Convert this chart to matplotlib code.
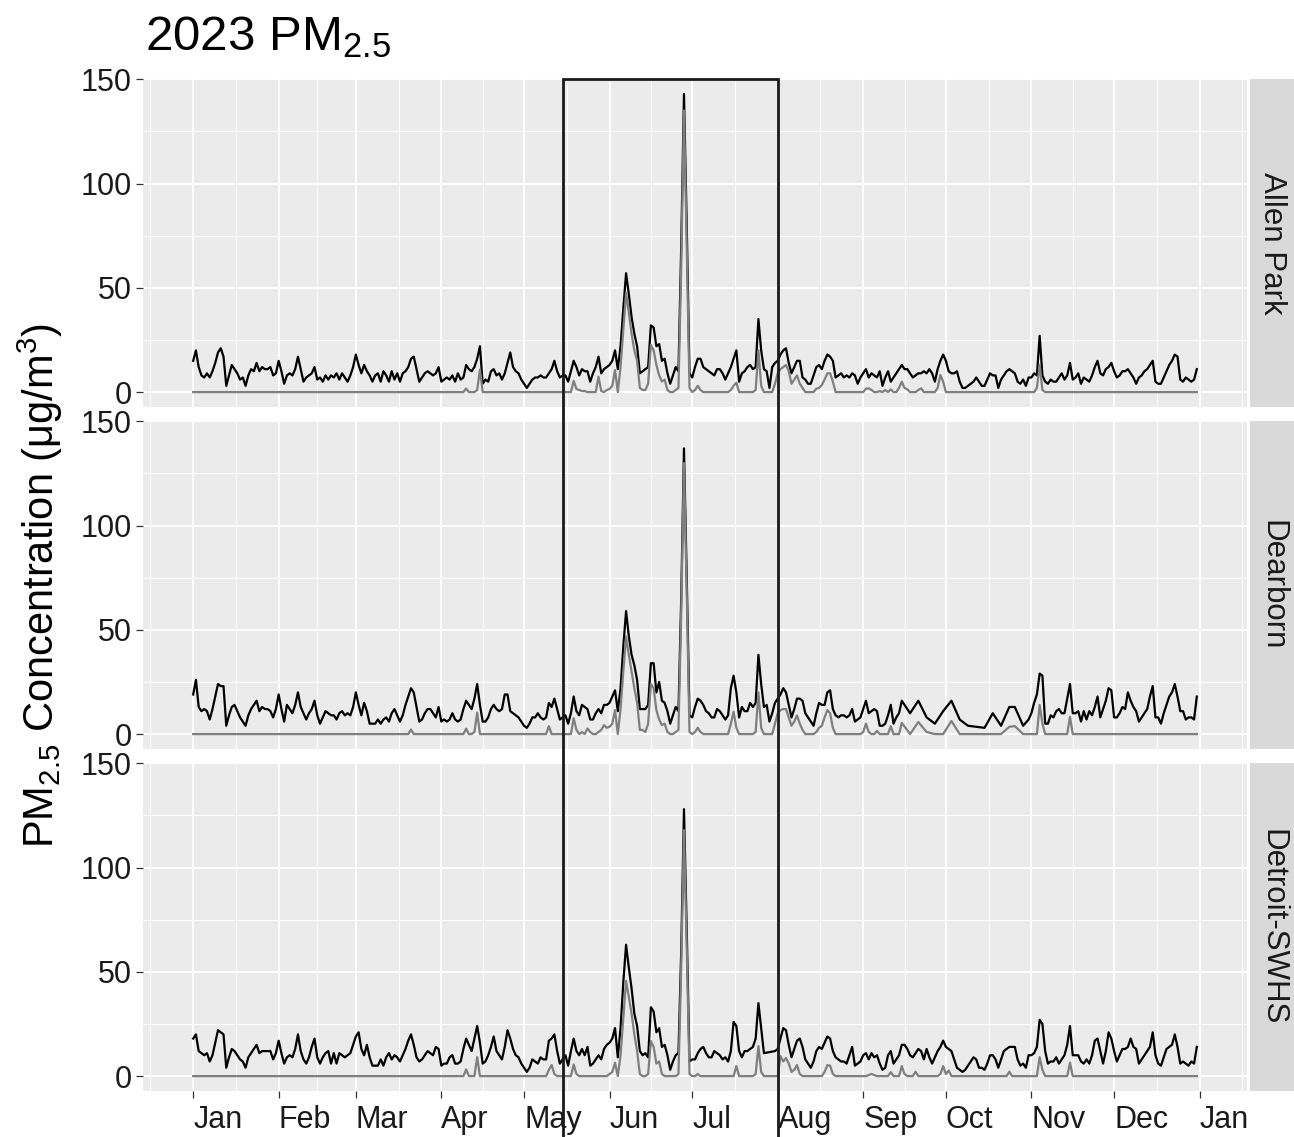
import numpy as np
import matplotlib
matplotlib.use("Agg")
import matplotlib.pyplot as plt
import matplotlib.dates as mdates
from matplotlib.patches import Rectangle
from matplotlib.transforms import blended_transform_factory

N = None  # day with no sample

START = "2023-01-01"
SITES = ["Allen Park", "Dearborn", "Detroit-SWHS"]
MONTH_LABELS = ["Jan", "Feb", "Mar", "Apr", "May", "Jun", "Jul",
                "Aug", "Sep", "Oct", "Nov", "Dec", "Jan"]
BOX_START = "2023-05-15"
BOX_END = "2023-08-01"

# daily PM2.5 (black line), one value per day from Jan 1
allen_park_pm = [
    15, 20, 12, 8, 7, 9, 7, 10, 14, 19,
    21, 17, 3, 8, 13, 11, 9, 6, 7, 3,
    8, 11, 10, 14, 10, 12, 11, 11, 12, 8,
    9, 15, 10, 4, 8, 9, 8, 11, 17, 11,
    5, 7, 8, 9, 12, 6, 7, 5, 8, 6,
    8, 7, 9, 6, 9, 7, 5, 8, 12, 18,
    13, 9, 13, 10, 8, 5, 8, 9, 5, 10,
    8, 5, 10, 6, 9, 5, 9, 10, 12, 16,
    17, 11, 5, 7, 9, 10, 9, 8, 9, 12,
    5, 6, 7, 6, 8, 5, 9, 6, 7, 13,
    11, 10, 12, 16, 22, 4, 6, 5, 10, 11,
    8, 9, 6, 9, 14, 19, 12, 10, 9, 6,
    4, 2, 4, 6, 7, 7, 8, 7, 7, 9,
    11, 15, 10, 7, 8, 8, 5, 10, 15, 12,
    8, 11, 10, 10, 5, 9, 12, 17, 9, 11,
    12, 13, 15, 20, 11, 22, 40, 57, 47, 36,
    28, 22, 9, 10, 11, 12, 32, 31, 22, 23,
    15, 16, 9, 4, 8, 12, 10, 70, 143, 80,
    9, 7, 12, 16, 16, 12, 11, 10, 9, 8,
    11, 11, 9, 6, 9, 12, 16, 20, 5, 9,
    10, 12, 13, 11, 12, 35, 20, 11, 10, 2,
    12, 14, 15, 18, 20, 21, 14, 9, 12, 15,
    15, 7, 6, 4, 4, 8, 12, 13, 11, 15,
    18, 17, 15, 7, 8, 9, 7, 8, 7, 9,
    8, 4, 7, 9, 11, 7, 9, 8, 7, 10,
    3, 7, 10, 5, 7, 9, 11, 13, 11, 11,
    9, 7, 8, 9, 9, 10, 9, 11, 9, 5,
    11, 15, 18, 15, 10, 9, 9, 10, 5, 2,
    2, 3, 4, 5, 7, 5, 3, 3, 6, 9,
    8, 8, 2, 6, 8, 10, 11, 10, 9, 5,
    4, 6, 3, 7, 7, 9, 8, 27, 8, 5,
    4, 6, 5, 5, 7, 9, 6, 8, 14, 6,
    7, 9, 4, 7, 6, 5, 8, 12, 15, 9,
    8, 11, 12, 14, 10, 7, 8, 10, 10, 11,
    9, 7, 4, 7, 8, 10, 11, 13, 15, 5,
    4, 4, 7, 10, 13, 15, 18, 17, 6, 5,
    7, 6, 5, 6, 11,
]

dearborn_pm = [
    19, 26, 13, 11, 12, 11, 7, 12, 18, 24,
    23, 23, 4, 9, 13, 14, 11, 8, 6, 4,
    9, 12, 14, 16, 11, 13, 12, 12, 11, 8,
    12, 19, 12, 6, 14, 12, 10, 14, 20, 13,
    10, 7, 10, 12, 16, 9, 5, 8, 11, 10,
    9, 9, 7, 10, 11, 9, 10, 9, 13, 20,
    14, 9, 15, 11, 5, 5, 5, 7, 5, 7,
    8, 6, 10, 12, 9, 6, 9, 14, 18, 22,
    20, 13, 6, 7, 10, 12, 12, 10, 8, 13,
    6, 7, 6, 7, 10, 7, 6, 7, 12, 16,
    14, 12, 17, 24, 14, 6, 6, 8, 12, 14,
    12, 11, 12, 19, 19, 11, 10, 9, 8, 6,
    4, 3, 5, 8, 8, 10, 8, 7, 8, 15,
    13, 17, 12, 7, 8, 9, 5, 10, 18, 11,
    9, 14, 13, 12, 7, 7, 10, 12, 10, 14,
    14, 15, 18, 21, 11, 22, 42, 59, 47, 38,
    33, 26, 12, 12, 12, 14, 34, 34, 20, 25,
    16, 15, 11, 5, 9, 13, 11, 65, 137, 75,
    9, 8, 13, 17, 16, 14, 11, 10, 8, 8,
    12, 11, 9, 7, 9, 22, 28, 20, 8, 13,
    11, 11, 15, 13, 15, 38, 24, 13, 14, 6,
    10, 15, 17, 19, 22, 20, 14, 8, 12, 17,
    17, 16, 10, 8, 6, 4, 10, 15, 14, 14,
    20, 21, 12, 9, 8, 9, 9, 8, 9, 12,
    6, 7, 8, 12, 16, 10, 11, 12, 11, 4,
    4, 5, 9, 14, 5, 8, 10, 16, N, N,
    10, N, N, 16, N, N, 8, N, N, 5,
    N, N, 11, N, N, 16, N, N, 7, N,
    N, 4, N, N, N, N, N, 3, N, N,
    10, N, N, 4, N, N, 13, N, 13, N,
    N, 4, N, 7, 10, 15, 19, 29, 28, 5,
    5, 9, 8, 11, 12, 10, 10, 17, 24, 10,
    10, 11, 6, 11, 7, 11, 9, 13, 18, 8,
    12, 16, 22, 21, 8, 8, 10, 13, 12, 20,
    16, 13, 11, 6, 8, 10, 12, 18, 23, 8,
    8, 5, 10, 14, 18, 20, 24, 18, 11, 11,
    7, 8, 8, 7, 18,
]

detroit_swhs_pm = [
    18, 20, 12, 11, 10, 11, 7, 10, 16, 22,
    21, 20, 4, 9, 13, 12, 10, 8, 7, 4,
    9, 11, 13, 15, 11, 12, 12, 12, 12, 8,
    11, 17, 11, 6, 9, 10, 9, 13, 20, 12,
    8, 6, 9, 14, 18, 9, 6, 9, 11, 12,
    6, 11, 6, 11, 10, 9, 10, 11, 15, 19,
    21, 13, 10, 15, 9, 5, 5, 5, 8, 5,
    9, 11, 8, 10, 9, 7, 10, 13, 17, 20,
    15, 9, 7, 8, 10, 12, 11, 10, 14, 13,
    5, 6, 6, 9, 10, 6, 6, 7, 13, 18,
    15, 12, 18, 24, 16, 6, 7, 10, 14, 19,
    12, 10, 8, 14, 22, 18, 13, 10, 9, 6,
    4, 2, 4, 8, 7, 6, 9, 8, 8, 17,
    18, 20, 12, 6, 8, 10, 5, 12, 18, 12,
    10, 13, 10, 14, 5, 6, 8, 10, 8, 13,
    15, 16, 18, 23, 9, 23, 45, 63, 52, 42,
    30, 24, 12, 10, 11, 9, 33, 31, 21, 23,
    14, 15, 10, 3, 7, 10, 11, 60, 128, 70,
    7, 8, 8, 11, 13, 14, 11, 9, 9, 12,
    11, 10, 8, 9, 7, 12, 26, 24, 12, 9,
    12, 12, 13, 14, 18, 35, 23, 11, N, N,
    N, 12, 13, 18, 23, 22, 15, 9, 13, 17,
    18, 14, 8, 6, 4, 7, 12, 14, 13, 16,
    19, 18, 12, 9, 8, 7, 7, 6, 10, 14,
    5, 6, 7, 10, 11, 8, 11, 9, 10, 6,
    3, 4, 10, 12, 6, 8, 10, 15, 15, 13,
    10, 9, 11, 13, 12, 8, 13, 9, 6, 9,
    12, 14, 17, 14, 13, 12, 8, 4, 3, 2,
    3, 5, 7, 9, 8, 4, 4, 3, 6, 10,
    10, 8, 4, 8, 12, 13, 14, 14, 14, 8,
    5, 6, 4, 10, 10, 11, 14, 27, 25, 12,
    6, 7, 7, 9, 6, 8, 10, 15, 24, 10,
    10, 10, 7, 6, 8, 6, 10, 17, 18, 12,
    6, 12, 21, 18, 12, 7, 10, 13, 13, 14,
    18, 14, 13, 6, 8, 10, 12, 14, 21, 10,
    6, 5, 9, 13, 14, 15, 20, 14, 6, 7,
    6, 5, 7, 6, 14,
]

# grey line: zero except on these days (day index from Jan 1)
allen_park_grey_days = [
    99, 103, 104, 138, 139, 140, 141, 142, 147, 148, 150, 151, 152, 153,
    155, 156, 157, 158, 159, 160, 161, 162, 163, 164, 165, 166, 167, 168,
    169, 170, 171, 172, 175, 176, 177, 178, 179, 180, 182, 183, 184, 195,
    196, 197, 204, 205, 206, 211, 212, 213, 214, 215, 216, 217, 218, 219,
    220, 221, 226, 227, 228, 229, 230, 231, 232, 244, 245, 246, 249, 251,
    253, 256, 257, 258, 259, 263, 264, 270, 271, 272, 306, 307, 308,
]
allen_park_grey_vals = [
    1.7, 1, 10.8, 5.4, 1.5, 1, 0.5, 0.5, 7.4, 0.5, 1, 1.5, 3, 10.6,
    12, 30, 47.6, 38, 28, 20, 15, 2, 1, 1, 4, 22.6, 20, 13,
    8, 5, 6, 1, 1, 2, 60, 135, 70, 2, 1, 3, 1, 1,
    3, 4.5, 1, 20, 3, 4, 9, 11, 12, 13, 10, 4, 6, 8,
    4, 2, 1.6, 2, 3.4, 6, 9, 9, 5, 1.6, 1.8, 1, 0.5, 1,
    1.3, 2, 5, 2, 1.3, 1, 1.8, 2, 8.2, 5, 2, 13, 1,
]

dearborn_grey_days = [
    79, 99, 102, 103, 129, 138, 139, 141, 143, 144, 147, 148, 149, 150,
    151, 152, 153, 155, 156, 157, 158, 159, 160, 161, 162, 163, 164, 165,
    166, 167, 168, 169, 170, 171, 172, 175, 176, 177, 178, 179, 180, 182,
    183, 184, 195, 196, 197, 204, 205, 206, 211, 212, 213, 214, 215, 216,
    217, 218, 219, 220, 221, 226, 227, 228, 229, 230, 231, 232, 243, 244,
    245, 248, 253, 257, 263, 266, 275, 296, 298, 307, 308, 318,
]
dearborn_grey_vals = [
    2.2, 2.6, 1, 10.3, 3.8, 7.6, 2, 1, 2.7, 1, 1, 2, 4.3, 3,
    3.5, 5, 11.5, 12, 30, 46.8, 38, 30, 22, 15, 2, 2, 1, 5,
    24, 22, 11.5, 7, 4.3, 5, 1, 1, 2, 58, 130, 68, 1, 1,
    3, 1, 5, 10.7, 3, 1, 20, 3, 5, 10, 11.5, 12, 12, 8,
    4, 6, 9, 5, 2, 1, 3, 4, 8, 11.5, 10, 3, 1, 5,
    1, 1.5, 3.8, 5.4, 5.8, 1, 6.3, 3.5, 3.8, 14, 5, 8.3,
]

detroit_swhs_grey_days = [
    99, 103, 129, 130, 131, 138, 139, 151, 152, 153, 155, 156, 157, 158,
    159, 160, 161, 162, 165, 166, 167, 168, 169, 170, 176, 177, 178, 179,
    180, 183, 197, 204, 205, 206, 213, 214, 215, 216, 217, 218, 219, 220,
    229, 230, 231, 232, 245, 246, 247, 253, 257, 258, 262, 271, 272, 273,
    274, 296, 307, 308, 318,
]
detroit_swhs_grey_vals = [
    3.2, 9.1, 3, 5.3, 1, 5.6, 1, 1, 2, 6.4, 10, 28, 45.7, 38,
    30, 20, 12, 1, 1, 16.8, 14, 6, 7, 1, 1, 52, 118, 62,
    1, 1, 4.8, 1, 14.4, 2, 9.6, 7, 8.7, 6, 2, 3, 5.3, 1,
    2, 5.3, 5, 1, 0.5, 1, 0.5, 1.9, 4.8, 1, 2.1, 1, 4.8, 1,
    2.7, 2.1, 9.1, 3, 6.4,
]

daily_series = [allen_park_pm, dearborn_pm, detroit_swhs_pm]
grey_series = [
    (allen_park_grey_days, allen_park_grey_vals),
    (dearborn_grey_days, dearborn_grey_vals),
    (detroit_swhs_grey_days, detroit_swhs_grey_vals),
]

# ---- layout (pixels of a 1294 x 1137 canvas) ----
W_PX, H_PX = 1294, 1137
PANEL_LEFT, PANEL_RIGHT = 143, 1247
PANEL_ROWS = [(79, 407), (421, 749), (763, 1091)]
STRIP_LEFT, STRIP_WIDTH = 1250, 44

plt.rcParams["font.family"] = ["Liberation Sans", "DejaVu Sans"]
plt.rcParams["mathtext.fontset"] = "custom"
plt.rcParams["mathtext.rm"] = "Liberation Sans"

start = np.datetime64(START)
dates = start + np.arange(len(allen_park_pm))
x = mdates.date2num(dates)
x_pad = 0.05 * (x[-1] - x[0])
xlim = (x[0] - x_pad, x[-1] + x_pad)

all_vals = [v for s in daily_series for v in s if v is not None]
y_pad = 0.05 * (max(all_vals) - 0)
ylim = (0 - y_pad, max(all_vals) + y_pad)

month_starts = np.arange(np.datetime64("2023-01"), np.datetime64("2024-02"),
                         dtype="datetime64[M]").astype("datetime64[D]")
major_x = mdates.date2num(month_starts)
edge = mdates.date2num(np.arange(np.datetime64("2022-12"), np.datetime64("2024-03"),
                                 dtype="datetime64[M]").astype("datetime64[D]"))
minor_x = (edge[:-1] + edge[1:]) / 2

fig = plt.figure(figsize=(W_PX / 100, H_PX / 100), dpi=100)
axes = []
for i, (top, bot) in enumerate(PANEL_ROWS):
    ax = fig.add_axes([PANEL_LEFT / W_PX, 1 - bot / H_PX,
                       (PANEL_RIGHT - PANEL_LEFT) / W_PX, (bot - top) / H_PX])
    ax.set_facecolor("#EBEBEB")
    for s in ax.spines.values():
        s.set_visible(False)

    daily = np.array([np.nan if v is None else v for v in daily_series[i]], dtype=float)
    grey = np.zeros(len(daily))
    gdays, gvals = grey_series[i]
    grey[gdays] = gvals
    ok = ~np.isnan(daily)
    ax.plot(x[ok], daily[ok], color="black", lw=1.6, zorder=3)
    ax.plot(x[ok], grey[ok], color="#7F7F7F", lw=1.6, zorder=4)

    ax.set_xlim(xlim)
    ax.set_ylim(ylim)
    ax.set_yticks([0, 50, 100, 150])
    ax.set_yticks([25, 75, 125], minor=True)
    ax.set_xticks(major_x)
    ax.set_xticks(minor_x, minor=True)
    ax.grid(which="major", color="white", lw=1.3)
    ax.grid(which="minor", color="white", lw=0.65)
    ax.set_axisbelow(True)
    ax.tick_params(which="minor", length=0)
    ax.tick_params(axis="y", which="major", length=5, width=0.9, color="#333333",
                   labelsize=22, labelcolor="#1A1A1A", pad=3)
    if i < 2:
        ax.tick_params(axis="x", which="major", length=0, labelbottom=False)
    else:
        ax.set_xticklabels(MONTH_LABELS, ha="left")
        ax.tick_params(axis="x", which="major", length=5, width=0.9, color="#333333",
                       labelsize=22, labelcolor="#1A1A1A", pad=5)
    axes.append(ax)

    sax = fig.add_axes([STRIP_LEFT / W_PX, 1 - bot / H_PX,
                        STRIP_WIDTH / W_PX, (bot - top) / H_PX])
    sax.set_facecolor("#D9D9D9")
    sax.set_xticks([])
    sax.set_yticks([])
    for s in sax.spines.values():
        s.set_visible(False)
    sax.text(0.5, 0.5, SITES[i], rotation=270, ha="center", va="center",
             fontsize=22.5, color="#1A1A1A", transform=sax.transAxes)

# highlight box spanning all panels
top_frac = 1 - PANEL_ROWS[0][0] / H_PX
bx0 = mdates.date2num(np.datetime64(BOX_START))
bx1 = mdates.date2num(np.datetime64(BOX_END))
trans = blended_transform_factory(axes[0].transData, fig.transFigure)
rect = Rectangle((bx0, -0.05), bx1 - bx0, top_frac + 0.05, fill=False,
                 edgecolor="#1A1A1A", lw=2, transform=trans, zorder=20, clip_on=False)
fig.add_artist(rect)

fig.text(145 / W_PX, 1 - 50 / H_PX, r"2023 PM$\mathregular{_{2.5}}$",
         fontsize=35.5, ha="left", va="baseline")
panel_mid = (PANEL_ROWS[0][0] + PANEL_ROWS[-1][1]) / 2
fig.text(40 / W_PX, 1 - panel_mid / H_PX,
         r"PM$\mathregular{_{2.5}}$ Concentration (μg/m$\mathregular{^3}$)",
         fontsize=30, rotation=90, ha="center", va="center")

fig.savefig("out.png", dpi=100)
